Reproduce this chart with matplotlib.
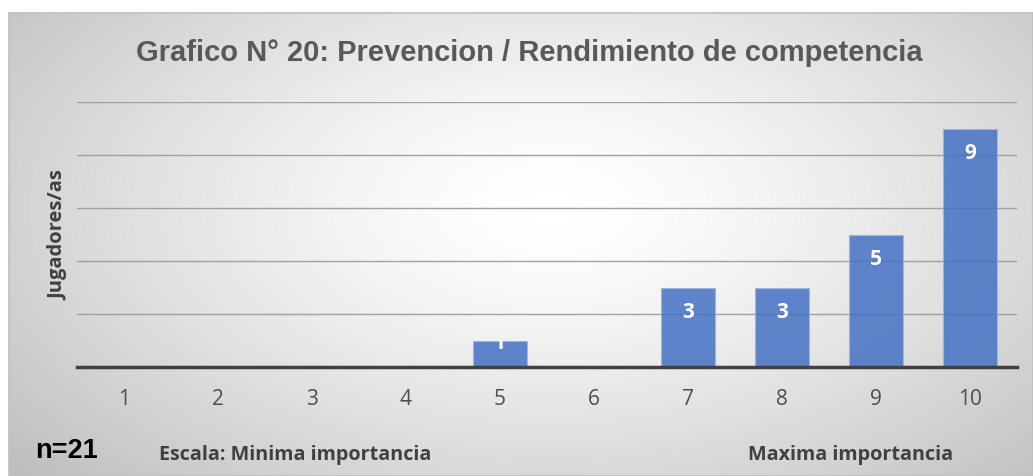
import numpy as np
import matplotlib
matplotlib.use("Agg")
import matplotlib.pyplot as plt

categories = ["1", "2", "3", "4", "5", "6", "7", "8", "9", "10"]
values = [0, 0, 0, 0, 1, 0, 3, 3, 5, 9]
title = "Grafico N° 20: Prevencion / Rendimiento de competencia"
ylabel = "Jugadores/as"

W, H = 1033, 476
fig = plt.figure(figsize=(W / 100, H / 100), dpi=100)
fig.patch.set_facecolor("white")

# background chart area with radial gradient
bx0, by1 = 9 / W, 1 - 13 / H
bg = fig.add_axes([bx0, 0, 1 - bx0, by1], zorder=-5)
ny, nx = 300, 600
yy, xx = np.mgrid[0:ny, 0:nx]
cx, cy = 0.53 * nx, 0.42 * ny
r = np.sqrt(((xx - cx) / (0.62 * nx)) ** 2 + ((yy - cy) / (0.75 * ny)) ** 2)
r = np.clip(r, 0, 1.15)
val = 1 - 0.23 * np.clip(r - 0.05, 0, None) ** 1.3
img = np.dstack([val, val, val])
bg.imshow(img, aspect="auto", extent=[0, 1, 0, 1], interpolation="bilinear")
bg.set_xlim(0, 1); bg.set_ylim(0, 1)
bg.set_xticks([]); bg.set_yticks([])
for s in bg.spines.values():
    s.set_color("#bfbfbf"); s.set_linewidth(1.2)

ax = fig.add_axes([77 / W, (H - 367) / H, (1017 - 77) / W, (367 - 102) / H])
ax.set_facecolor("none")
x = np.arange(1, len(categories) + 1)
bars = ax.bar(x, values, width=0.585, color="#4472C4", alpha=0.85,
              edgecolor="#9db5e0", linewidth=0.8, zorder=2)
ax.set_xlim(0.5, len(categories) + 0.5)
ax.set_ylim(0, 10)
ax.set_yticks(np.arange(2, 11, 2))
ax.yaxis.grid(True, color="#a0a0a0", linewidth=1.0, zorder=1)
ax.set_axisbelow(True)
ax.tick_params(axis="y", length=0, labelleft=False)
ax.set_xticks(x)
ax.set_xticklabels(categories, fontsize=15, color="#4d4d4d", family="Open Sans")
ax.tick_params(axis="x", length=0, pad=16)
for s in ["top", "right", "left"]:
    ax.spines[s].set_visible(False)
ax.spines["bottom"].set_color("#404040")
ax.spines["bottom"].set_linewidth(2.5)
ax.spines["bottom"].set_zorder(4)

for b, v in zip(bars, values):
    if v <= 0:
        continue
    ly = v - 0.95 if v >= 2 else v - 0.12
    t = ax.text(b.get_x() + b.get_width() / 2, ly, str(v), ha="center", va="center",
                color="white", fontsize=15, fontweight="bold", family="Open Sans", zorder=3)
    t.set_clip_on(True)
    t.set_clip_path(b)

fig.text(529 / W, (H - 53) / H, title, ha="center", va="center", fontsize=21,
         fontweight="bold", color="#595959", family="Liberation Sans")
fig.text(58 / W, (H - 235) / H, ylabel, rotation=90, ha="center", va="center",
         fontsize=14.5, fontweight="bold", color="#404040", family="Open Sans")
fig.text(35 / W, (H - 451) / H, "n=21", ha="left", va="center", fontsize=19.5,
         fontweight="bold", color="black", family="Liberation Sans")
fig.text(159 / W, (H - 455) / H, "Escala: Minima importancia", ha="left", va="center",
         fontsize=14.2, fontweight="bold", color="#404040", family="Open Sans")
fig.text(748 / W, (H - 455) / H, "Maxima importancia", ha="left", va="center",
         fontsize=14.2, fontweight="bold", color="#404040", family="Open Sans")

fig.savefig("out.png", dpi=100)
